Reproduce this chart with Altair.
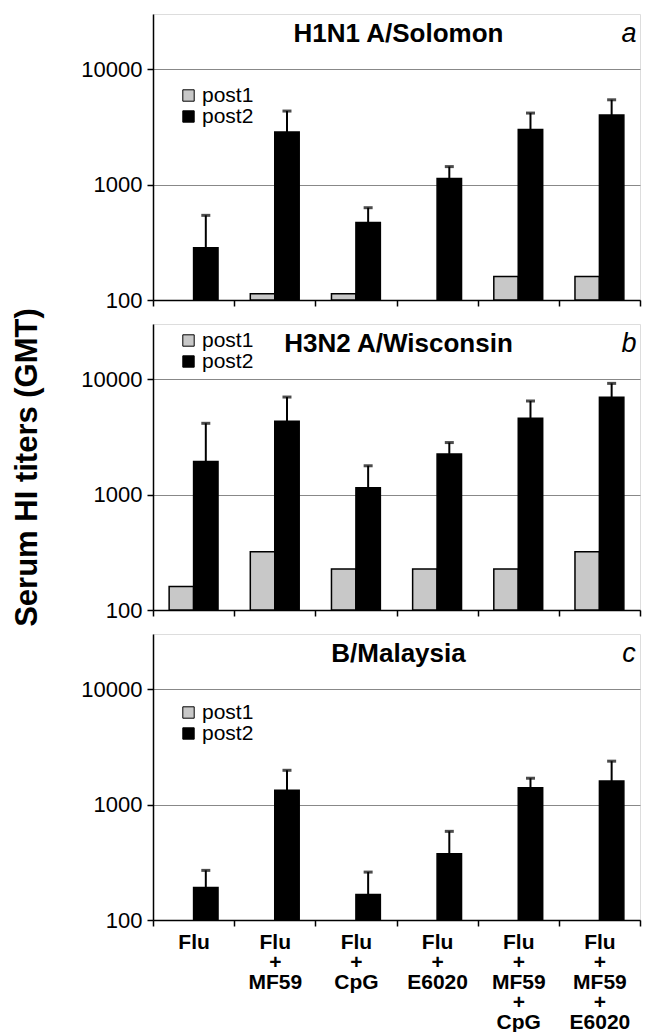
import altair as alt
import pandas as pd

categories = ["Flu", "Flu\n+\nMF59", "Flu\n+\nCpG", "Flu\n+\nE6020",
              "Flu\n+\nMF59\n+\nCpG", "Flu\n+\nMF59\n+\nE6020"]
series = ["post1", "post2"]
series_colors = ["#c8c8c8", "#000000"]

# Panel a: H1N1 A/Solomon
a_post1 = [None, 113, 113, None, 160, 160]
a_post2 = [284, 2850, 470, 1130, 3000, 4000]
a_errtop = [541, 4330, 630, 1430, 4160, 5420]

# Panel b: H3N2 A/Wisconsin
b_post1 = [160, 320, 226, 226, 226, 320]
b_post2 = [1935, 4310, 1145, 2250, 4580, 6950]
b_errtop = [4140, 6990, 1775, 2820, 6460, 9180]

# Panel c: B/Malaysia
c_post1 = [None, None, None, None, None, None]
c_post2 = [191, 1330, 166, 374, 1400, 1600]
c_errtop = [269, 1980, 260, 586, 1690, 2375]

W, H = 487, 286
FONT = "Liberation Sans"


def make_panel(title, letter, p1, p2, top, legend_y, last, ytitle):
    rows = []
    for c, v1, v2, t in zip(categories, p1, p2, top):
        if v1 is not None:
            rows.append({"cat": c, "series": "post1", "value": v1, "top": None})
        rows.append({"cat": c, "series": "post2", "value": v2, "top": t})
    df = pd.DataFrame(rows)

    if last:
        xaxis = alt.Axis(title=None, labelAngle=0, labelFontSize=21, labelFontWeight="bold",
                         labelLineHeight=20, labelPadding=5, labelColor="black",
                         labelExpr="split(datum.label, '\\n')",
                         tickBand="extent", tickSize=6, tickColor="black", tickWidth=1.5,
                         domainColor="black", domainWidth=1.5, labelFont=FONT)
    else:
        xaxis = alt.Axis(title=None, labels=False, tickBand="extent", tickSize=6,
                         tickColor="black", tickWidth=1.5, domainColor="black", domainWidth=1.5)
    x = alt.X("cat:N", sort=categories,
              scale=alt.Scale(domain=categories, paddingInner=0, paddingOuter=0),
              axis=xaxis)
    xoff = alt.XOffset("series:N",
                       scale=alt.Scale(domain=series, paddingInner=0, paddingOuter=0.66))

    yaxis_kwargs = dict(values=[100, 1000, 10000], format="d", labelFontSize=22,
                        labelColor="black", labelFont=FONT, labelPadding=5,
                        tickSize=6, tickColor="black", tickWidth=1.5,
                        domainColor="black", domainWidth=1.5,
                        grid=True, gridColor="#888888", gridWidth=1)
    if ytitle:
        yaxis = alt.Axis(title=ytitle, titleFontSize=31, titleFontWeight="bold",
                         titleFont=FONT, titleColor="black", titlePadding=37,
                         **yaxis_kwargs)
    else:
        yaxis = alt.Axis(title=None, **yaxis_kwargs)
    yscale = alt.Scale(type="log", domain=[100, 30000])

    def yenc(field):
        return alt.Y(field, scale=yscale, axis=yaxis)

    bars = alt.Chart(df).mark_bar(stroke="black", strokeWidth=1.5).encode(
        x=x, xOffset=xoff, y=yenc("value:Q"), y2=alt.datum(100),
        color=alt.Color("series:N",
                        scale=alt.Scale(domain=series, range=series_colors),
                        legend=alt.Legend(orient="none", legendX=25, legendY=legend_y,
                                          title=None, symbolType="square", symbolSize=130,
                                          symbolStrokeColor="black", symbolStrokeWidth=1,
                                          labelFontSize=21, labelFont=FONT, labelColor="black",
                                          labelOffset=3, rowPadding=-1, padding=0)),
    )
    errdf = df[df["top"].notna()]
    rule = alt.Chart(errdf).mark_rule(color="black", strokeWidth=2).encode(
        x=x, xOffset=xoff, y=yenc("value:Q"), y2="top:Q")
    cap = alt.Chart(errdf).mark_tick(color="black", orient="horizontal", size=9,
                                     thickness=3).encode(
        x=x, xOffset=xoff, y=yenc("top:Q"))

    ttl = alt.Chart(pd.DataFrame({"t": [title]})).mark_text(
        font=FONT, fontSize=26, fontWeight="bold", color="black", baseline="middle"
    ).encode(text="t:N", x=alt.value(W / 2 + 2), y=alt.value(20))
    let = alt.Chart(pd.DataFrame({"t": [letter]})).mark_text(
        font=FONT, fontSize=27, fontStyle="italic", color="black", baseline="middle"
    ).encode(text="t:N", x=alt.value(W - 11), y=alt.value(20))

    return alt.layer(bars, rule, cap, ttl, let).properties(width=W, height=H)


pa = make_panel("H1N1 A/Solomon", "a", a_post1, a_post2, a_errtop, 71, False, None)
pb = make_panel("H3N2 A/Wisconsin", "b", b_post1, b_post2, b_errtop, 6, False,
                "Serum HI titers (GMT)")
pc = make_panel("B/Malaysia", "c", c_post1, c_post2, c_errtop, 68, True, None)

chart = alt.vconcat(pa, pb, pc, spacing=24, bounds="flush").resolve_legend(
    color="independent"
).properties(
    padding={"left": 3, "top": 5, "right": 0, "bottom": 0}
).configure_view(stroke="black", strokeWidth=1.5).configure(background="white")

chart.save("out.html", embed_options={"renderer": "svg", "actions": False})
